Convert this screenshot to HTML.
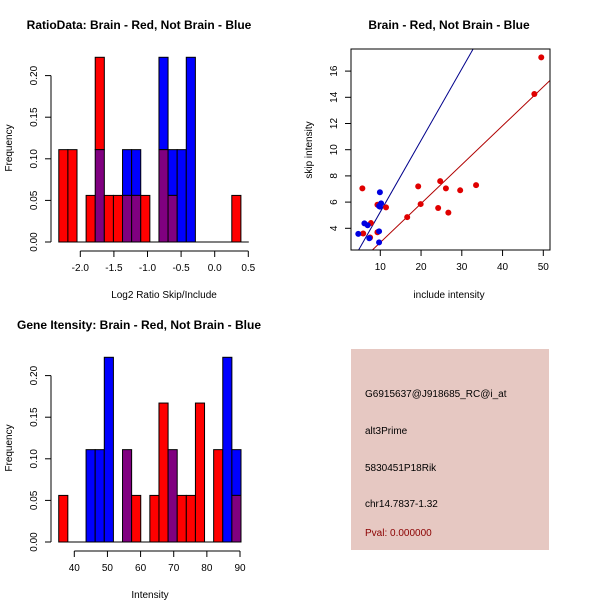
<!DOCTYPE html>
<html><head><meta charset="utf-8"><style>
html,body{margin:0;padding:0;background:#fff;}
svg{display:block;font-family:"Liberation Sans",sans-serif;}
</style></head><body>
<svg id="s" width="600" height="600" viewBox="0 0 600 600">
<rect width="600" height="600" fill="#fff"/>
<text x="139" y="29" font-size="12" font-weight="bold" text-anchor="middle">RatioData: Brain - Red, Not Brain - Blue</text>
<text x="449" y="29" font-size="12" font-weight="bold" text-anchor="middle">Brain - Red, Not Brain - Blue</text>
<text x="139" y="329" font-size="12" font-weight="bold" text-anchor="middle">Gene Itensity: Brain - Red, Not Brain - Blue</text>
<text x="164" y="298" font-size="10" text-anchor="middle">Log2 Ratio Skip/Include</text>
<text x="449" y="298" font-size="10" text-anchor="middle">include intensity</text>
<text x="150" y="598" font-size="10" text-anchor="middle">Intensity</text>
<text transform="translate(12,148) rotate(-90)" font-size="10" text-anchor="middle">Frequency</text>
<text transform="translate(12,448) rotate(-90)" font-size="10" text-anchor="middle">Frequency</text>
<text transform="translate(312,150) rotate(-90)" font-size="10" text-anchor="middle">skip intensity</text>
<g>
<rect x="351" y="349" width="198" height="201" fill="#e6c8c2"/>
<text x="365" y="397" font-size="10">G6915637@J918685_RC@i_at</text>
<text x="365" y="434" font-size="10">alt3Prime</text>
<text x="365" y="471" font-size="10">5830451P18Rik</text>
<text x="365" y="507" font-size="10">chr14.7837-1.32</text>
<text x="365" y="536" font-size="10" fill="#8b0000">Pval: 0.000000</text>
</g>
</svg>
<script>
const ratioRed  = [.111,.111,0,.056,.222,.056,.056,.056,.056,.056,0,.111,.056,0,0,0,0,0,0,.056];
const ratioBlue = [0,0,0,0,.111,0,0,.111,.111,0,0,.222,.111,.111,.222,0,0,0,0,0];
const ratioStart = -2.32, ratioBin = 0.1355;
const ratioXTicks = ["-2.0","-1.5","-1.0","-0.5","0.0","0.5"];
const intRed  = [.056,0,0,0,0,0,0,.111,.056,0,.056,.167,.111,.056,.056,.167,0,.111,0,.056];
const intBlue = [0,0,0,.111,.111,.222,0,.111,0,0,0,0,.111,0,0,0,0,0,.222,.111];
const intStart = 35.3, intBin = 2.75;
const intXTicks = ["40","50","60","70","80","90"];
const freqTicks = ["0.00","0.05","0.10","0.15","0.20"];
const redX = [5.6,5.8,7.7,7.5,9.3,9.3,11.4,16.6,19.3,19.9,24.2,24.7,26.1,26.7,29.6,33.5,47.8,49.5];
const redY = [7.05,3.6,4.4,3.3,3.7,5.8,5.6,4.85,7.2,5.85,5.55,7.6,7.05,5.2,6.9,7.3,14.25,17.05];
const blueX = [4.6,6.1,6.9,7.3,9.7,9.7,9.9,10.2,9.9,9.7];
const blueY = [3.57,4.38,4.23,3.24,3.77,2.93,6.75,5.9,5.65,5.7];
const redFit = [-0.05,0.297], blueFit = [-0.21,0.546];
const scXTicks = ["10","20","30","40","50"];
const scYTicks = ["4","6","8","10","12","14","16"];

const NS="http://www.w3.org/2000/svg", svg=document.getElementById('s');
function mk(t,a,p){const e=document.createElementNS(NS,t);for(const k in a)e.setAttribute(k,a[k]);(p||svg).appendChild(e);return e;}

function hist(red,blue,start,bin,xTicks,oy,x0,x1,v0,v1,name){
  const g=mk('g',{});
  
  
  const X=v=>x0+(v-v0)*(x1-x0)/(v1-v0), Y=f=>oy+242-f*832;
  for(let i=0;i<red.length;i++){
    const a=X(start+i*bin), b=X(start+(i+1)*bin), r=red[i], bl=blue[i], lo=Math.min(r,bl), hi=Math.max(r,bl);
    if(hi>lo){const e=mk('rect',{x:a,y:Y(hi),width:b-a,height:Y(lo)-Y(hi),fill:r>bl?'#ff0000':'#0000ff',stroke:'#000','stroke-width':1},g);
      }
    if(lo>0){const e=mk('rect',{x:a,y:Y(lo),width:b-a,height:Y(0)-Y(lo),fill:'#800080',stroke:'#000','stroke-width':1},g);
      }
  }
  mk('line',{x1:X(start),x2:x1+0.5,y1:Y(0),y2:Y(0),stroke:'#000'},g);
  // y axis
  mk('line',{x1:51,x2:51,y1:Y(0),y2:Y(0.2),stroke:'#000'},g);
  freqTicks.forEach(t=>{const y=Y(+t);mk('line',{x1:45,x2:51,y1:y,y2:y,stroke:'#000'},g);
    const e=mk('text',{transform:`translate(37,${y}) rotate(-90)`,'font-size':10,'text-anchor':'middle'},g);e.textContent=t;});
  // x axis
  const ay=oy+251;
  mk('line',{x1:X(+xTicks[0]),x2:X(+xTicks[xTicks.length-1]),y1:ay,y2:ay,stroke:'#000'},g);
  xTicks.forEach(t=>{const x=X(+t);mk('line',{x1:x,x2:x,y1:ay,y2:ay+6,stroke:'#000'},g);
    const e=mk('text',{x:x,y:ay+20,'font-size':10,'text-anchor':'middle'},g);e.textContent=t;});
}
hist(ratioRed,ratioBlue,ratioStart,ratioBin,ratioXTicks,0,80.3,248.3,-2.0,0.5,'ratio-histogram');
hist(intRed,intBlue,intStart,intBin,intXTicks,300,74.3,240,40,90,'intensity-histogram');

// scatter
const SX=v=>380.3+(v-10)*4.075, SY=v=>228.3-(v-4)*13.1;
const sg=mk('g',{});


mk('clipPath',{id:'cp'},sg).appendChild(document.createElementNS(NS,'rect'));
const cr=sg.querySelector('#cp rect');cr.setAttribute('x',351);cr.setAttribute('y',49);cr.setAttribute('width',199);cr.setAttribute('height',201);
[[blueFit,'#00008b','blue-fit-line'],[redFit,'#b00000','red-fit-line']].forEach(([f,c,n])=>{
  const e=mk('line',{x1:SX(0),y1:SY(f[0]),x2:SX(60),y2:SY(f[0]+f[1]*60),stroke:c,'stroke-width':1,'clip-path':'url(#cp)'},sg);
  });
redX.forEach((x,i)=>{const e=mk('circle',{cx:SX(x),cy:SY(redY[i]),r:3,fill:'#e00000'},sg);
  });
blueX.forEach((x,i)=>{const e=mk('circle',{cx:SX(x),cy:SY(blueY[i]),r:3,fill:'#0000e0'},sg);
  });
mk('rect',{x:351,y:49,width:199,height:201,fill:'none',stroke:'#000'},sg);
scXTicks.forEach(t=>{const x=SX(+t);mk('line',{x1:x,x2:x,y1:250,y2:256,stroke:'#000'},sg);
  const e=mk('text',{x:x,y:270,'font-size':10,'text-anchor':'middle'},sg);e.textContent=t;});
scYTicks.forEach(t=>{const y=SY(+t);mk('line',{x1:345,x2:351,y1:y,y2:y,stroke:'#000'},sg);
  const e=mk('text',{transform:`translate(337,${y}) rotate(-90)`,'font-size':10,'text-anchor':'middle'},sg);e.textContent=t;});
</script>
</body></html>
